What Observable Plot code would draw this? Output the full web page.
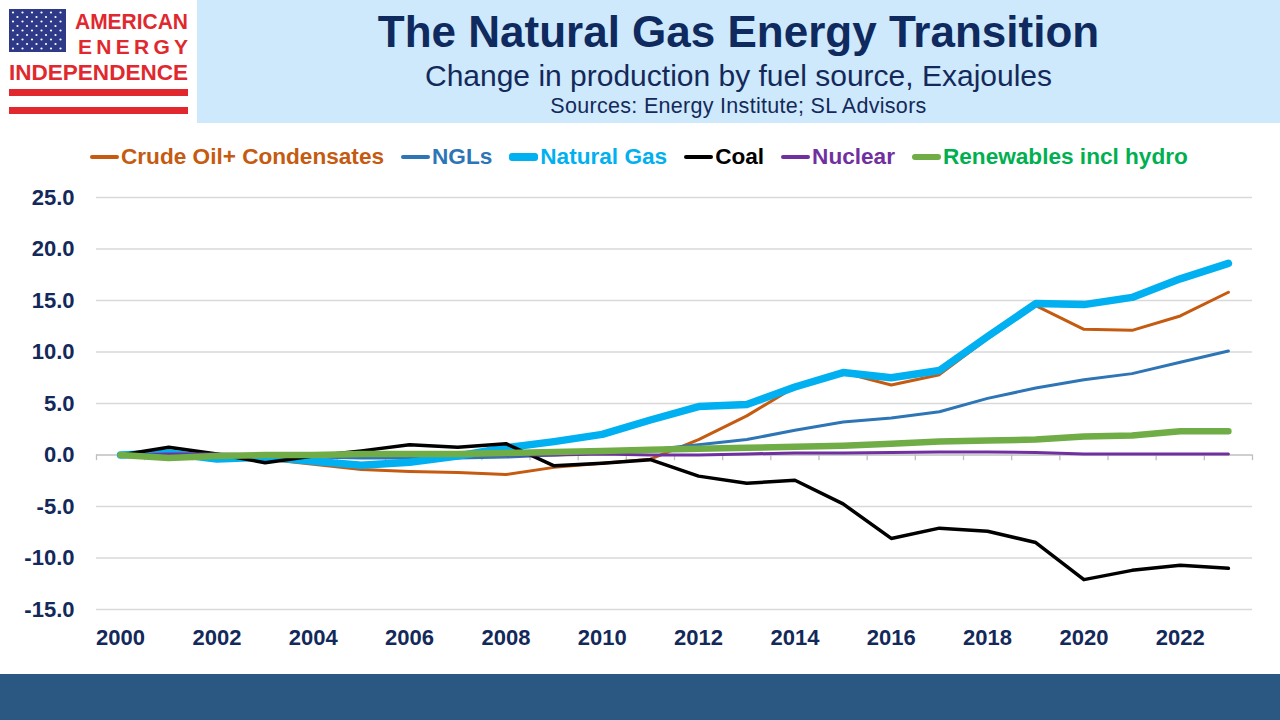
<!DOCTYPE html>
<html>
<head>
<meta charset="utf-8">
<script src="https://cdn.jsdelivr.net/npm/d3@7"></script>
<script src="https://cdn.jsdelivr.net/npm/@observablehq/plot@0.6"></script>
<style>
  html, body { margin:0; padding:0; background:#fff; }
  body { width:1280px; height:720px; position:relative; overflow:hidden; font-family:"Liberation Sans", Arial, sans-serif; }
  #header { position:absolute; left:197px; top:0; width:1083px; height:123px; background:#CDE9FB; }
  #title { position:absolute; left:197px; width:1083px; top:7px; text-align:center; font-weight:bold; font-size:44px; line-height:50px; color:#0F2A5E; font-family:"Liberation Sans",Arial,sans-serif;}
  #subtitle { position:absolute; left:197px; width:1083px; top:58.5px; text-align:center; font-size:30px; line-height:34px; color:#14295A; font-family:"Liberation Sans",Arial,sans-serif;}
  #source { position:absolute; left:197px; width:1083px; top:93.5px; text-align:center; font-size:21.5px; line-height:25px; color:#14295A; font-family:"Liberation Sans",Arial,sans-serif; letter-spacing:0.3px;}
  #logo { position:absolute; left:0; top:0; }
  #legend { position:absolute; left:90px; top:144px; height:26px; display:flex; align-items:center; font-weight:bold; font-size:22.6px; white-space:nowrap; }
  .item { display:flex; align-items:center; margin-right:17px; }
  .sw { display:inline-block; width:29px; border-radius:3px; margin-right:2px; }
  #chart { position:absolute; left:0; top:175px; }
  #footer { position:absolute; left:0; top:674px; width:1280px; height:46px; background:#2B5783; }
</style>
</head>
<body>
<div id="header"></div>
<svg id="logo" width="197" height="123" viewBox="0 0 197 123">
  <rect x="0" y="0" width="197" height="123" fill="#fff"/>
  <rect x="9" y="9" width="57" height="43" fill="#2E3A87"/>
  <g id="stars" fill="#fff"></g>
  <text x="75" y="29" font-family="Liberation Sans, Arial" font-weight="bold" font-size="22" fill="#E0282E" textLength="113" lengthAdjust="spacingAndGlyphs">AMERICAN</text>
  <text x="78" y="54" font-family="Liberation Sans, Arial" font-weight="bold" font-size="21" fill="#E0282E" textLength="110" lengthAdjust="spacing">ENERGY</text>
  <text x="9" y="80" font-family="Liberation Sans, Arial" font-weight="bold" font-size="22" fill="#E0282E" textLength="179" lengthAdjust="spacingAndGlyphs">INDEPENDENCE</text>
  <rect x="9" y="89" width="179" height="7" fill="#E0282E"/>
  <rect x="9" y="107" width="179" height="7" fill="#E0282E"/>
</svg>
<div id="title">The Natural Gas Energy Transition</div>
<div id="subtitle">Change in production by fuel source, Exajoules</div>
<div id="source">Sources: Energy Institute; SL Advisors</div>
<div id="legend"></div>
<div id="chart"></div>
<div id="footer"></div>
<script>
// ---- Data ----
const years = [2000,2001,2002,2003,2004,2005,2006,2007,2008,2009,2010,2011,2012,2013,2014,2015,2016,2017,2018,2019,2020,2021,2022,2023];
const crude   = [0, 0.0, -0.1, -0.4, -0.9, -1.4, -1.6, -1.7, -1.9, -1.2, -0.8, -0.4, 1.5, 3.8, 6.6, 8.0, 6.8, 7.8, 11.3, 14.5, 12.2, 12.1, 13.5, 15.8];
const ngls    = [0, 0.2, -0.1, -0.1, -0.2, -0.3, -0.3, -0.3, -0.2, 0.0, 0.2, 0.5, 1.0, 1.5, 2.4, 3.2, 3.6, 4.2, 5.5, 6.5, 7.3, 7.9, 9.0, 10.1];
const gas     = [0, 0.2, -0.4, -0.2, -0.6, -1.0, -0.7, -0.1, 0.7, 1.3, 2.0, 3.4, 4.7, 4.9, 6.6, 8.0, 7.5, 8.2, 11.5, 14.7, 14.6, 15.3, 17.1, 18.6];
const coal    = [0, 0.75, 0.1, -0.75, -0.1, 0.4, 1.0, 0.75, 1.1, -1.05, -0.8, -0.45, -2.05, -2.75, -2.45, -4.75, -8.1, -7.1, -7.4, -8.5, -12.1, -11.2, -10.7, -11.0];
const nuclear = [0, 0.1, 0.1, 0.0, 0.1, 0.1, 0.1, 0.0, 0.0, 0.0, 0.1, 0.0, 0.0, 0.1, 0.2, 0.2, 0.25, 0.3, 0.3, 0.25, 0.1, 0.1, 0.1, 0.1];
const renew   = [0, -0.3, -0.1, 0.0, 0.0, 0.1, 0.1, 0.1, 0.2, 0.3, 0.4, 0.5, 0.6, 0.7, 0.8, 0.9, 1.1, 1.3, 1.4, 1.5, 1.8, 1.9, 2.3, 2.3];
const seriesNames = ["Crude Oil+ Condensates", "NGLs", "Natural Gas", "Coal", "Nuclear", "Renewables incl hydro"];
const yTicks = [-15, -10, -5, 0, 5, 10, 15, 20, 25];
const xTickLabels = [2000,2002,2004,2006,2008,2010,2012,2014,2016,2018,2020,2022];

// ---- Styles ----
const lineColors = ["#C55A11", "#2E75B6", "#00B0F0", "#000000", "#7030A0", "#70AD47"];
const textColors = ["#C55A11", "#2E75B6", "#00B0F0", "#000000", "#7030A0", "#00B050"];
const widths = [3, 3, 7.5, 3.5, 3, 6.5];
const values = [crude, ngls, gas, coal, nuclear, renew];

// stars on flag
const stars = document.getElementById("stars");
for (let r = 0; r < 9; r++) {
  const n = r % 2 === 0 ? 6 : 5;
  for (let c = 0; c < n; c++) {
    const cx = 13 + (r % 2 === 0 ? 0 : 4.5) + c * 9.5;
    const cy = 12.5 + r * 4.5;
    const e = document.createElementNS("http://www.w3.org/2000/svg", "circle");
    e.setAttribute("cx", cx); e.setAttribute("cy", cy); e.setAttribute("r", 1.1);
    stars.appendChild(e);
  }
}

// legend
const legend = document.getElementById("legend");
seriesNames.forEach((name, i) => {
  const it = document.createElement("div");
  it.className = "item";
  const sw = document.createElement("span");
  sw.className = "sw";
  sw.style.background = lineColors[i];
  sw.style.height = Math.max(3.5, widths[i]) + "px";
  const t = document.createElement("span");
  t.textContent = name;
  t.style.color = textColors[i];
  it.appendChild(sw); it.appendChild(t);
  legend.appendChild(it);
});

const rows = seriesNames.flatMap((name, i) => years.map((yr, j) => ({series: name, year: yr, value: values[i][j]})));
const tickPos = years.map(y => y - 0.5).concat([years[years.length - 1] + 0.5]);
const x0 = years[0] - 0.5, x1 = years[years.length - 1] + 0.5;

const chart = Plot.plot({
  width: 1280,
  height: 490,
  marginLeft: 96,
  marginRight: 28,
  marginTop: 22,
  marginBottom: 56,
  style: {fontFamily: "'Liberation Sans', Arial, sans-serif", fontSize: "22px", fontWeight: "bold", color: "#13295A", background: "transparent"},
  x: {domain: [x0, x1], label: null},
  y: {domain: [-15, 25], label: null},
  marks: [
    Plot.ruleY(yTicks.filter(d => d !== 0), {y: d => d, x1: x0, x2: x1, stroke: "#D9D9D9", strokeWidth: 1.3}),
    Plot.ruleX(tickPos, {x: d => d, y1: 0, y2: -0.55, stroke: "#BFBFBF", strokeWidth: 1.3}),
    Plot.ruleY([0], {x1: x0, x2: x1, stroke: "#BFBFBF", strokeWidth: 1.3}),
    ...seriesNames.map((name, i) => Plot.line(rows.filter(r => r.series === name), {
      x: "year", y: "value", stroke: lineColors[i], strokeWidth: widths[i],
      strokeLinejoin: "round", strokeLinecap: "round"
    })),
    Plot.axisY({ticks: yTicks, tickSize: 0, tickPadding: 22, tickFormat: d => d.toFixed(1), label: null}),
    Plot.axisX({ticks: xTickLabels, tickSize: 0, tickPadding: 20, tickFormat: d => String(d), label: null})
  ]
});
document.getElementById("chart").appendChild(chart);
</script>
</body>
</html>
